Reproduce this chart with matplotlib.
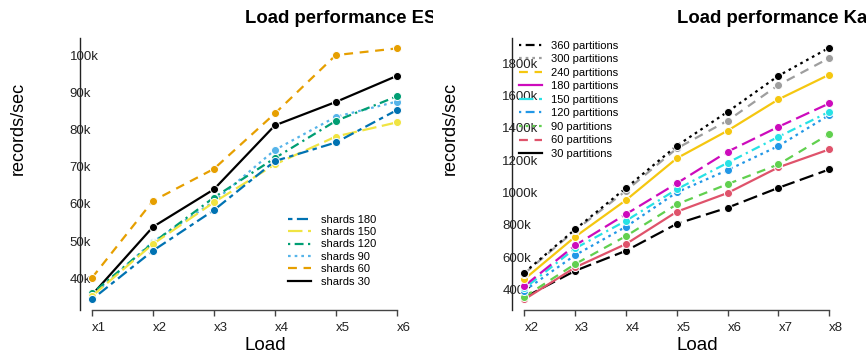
import matplotlib
matplotlib.use("Agg")
import matplotlib.pyplot as plt
from matplotlib.lines import Line2D
from matplotlib.transforms import Bbox, TransformedBbox

plt.rcParams.update({
    "font.family": ["Liberation Sans", "DejaVu Sans"],
    "font.size": 9,
})

W, H = 866, 358

# ---- data: ES shards ----
es_loads = [1, 2, 3, 4, 5, 6]
es_labels = ["x1", "x2", "x3", "x4", "x5", "x6"]
es_names = ["shards 30", "shards 60", "shards 90", "shards 120", "shards 150", "shards 180"]
es_30 = [35500, 53800, 63900, 81100, 87400, 94400]
es_60 = [40100, 60800, 69400, 84300, 100000, 101800]
es_90 = [35300, 49800, 60600, 74500, 83400, 87500]
es_120 = [35900, 49500, 61700, 72300, 82300, 88900]
es_150 = [35200, 49200, 60400, 70600, 78100, 81900]
es_180 = [34300, 47400, 58300, 71500, 76500, 85200]

# ---- data: Kafka partitions ----
ka_loads = [2, 3, 4, 5, 6, 7, 8]
ka_labels = ["x2", "x3", "x4", "x5", "x6", "x7", "x8"]
ka_names = ["30 partitions", "60 partitions", "90 partitions", "120 partitions",
            "150 partitions", "180 partitions", "240 partitions", "300 partitions",
            "360 partitions"]
ka_30 = [350000, 515000, 639000, 806000, 906000, 1029000, 1143000]
ka_60 = [338000, 536000, 681000, 881000, 997000, 1156000, 1267000]
ka_90 = [354000, 557000, 730000, 927000, 1052000, 1174000, 1362000]
ka_120 = [392000, 612000, 788000, 1001000, 1139000, 1288000, 1480000]
ka_150 = [406000, 654000, 825000, 1020000, 1184000, 1345000, 1500000]
ka_180 = [421000, 673000, 866000, 1057000, 1253000, 1407000, 1552000]
ka_240 = [463000, 726000, 953000, 1212000, 1383000, 1577000, 1730000]
ka_300 = [498000, 765000, 1011000, 1273000, 1445000, 1666000, 1833000]
ka_360 = [504000, 772000, 1028000, 1290000, 1500000, 1723000, 1897000]

# line types (R lty look-alikes)
SOLID = "-"
DASHED = (0, (4, 3))
DOTTED = (0, (1.2, 1.8))
DOTDASH = (0, (1, 2, 4, 2))
LONGDASH = (0, (6.5, 2.5))
TWODASH = (0, (2, 2, 5, 2))

es_series = [es_30, es_60, es_90, es_120, es_150, es_180]
es_colors = ["#000000", "#E69F00", "#56B4E9", "#009E73", "#F0E442", "#0072B2"]
es_lty = [SOLID, DASHED, DOTTED, DOTDASH, LONGDASH, TWODASH]

ka_series = [ka_30, ka_60, ka_90, ka_120, ka_150, ka_180, ka_240, ka_300, ka_360]
ka_colors = ["#000000", "#DF536B", "#61D04F", "#2297E6", "#28E2E5", "#CD0BBC",
             "#F5C710", "#9E9E9E", "#000000"]
ka_lty = [LONGDASH, SOLID, DASHED, DOTTED, DOTDASH, LONGDASH, SOLID, DASHED, DOTTED]
ka_leg_lty = [SOLID, DASHED, DOTTED, DOTDASH, LONGDASH, SOLID, DASHED, DOTTED, DOTDASH]

fig = plt.figure(figsize=(W / 100, H / 100), dpi=100)


def px_axes(x0, x1, y0, y1):
    return fig.add_axes([x0 / W, 1 - y1 / H, (x1 - x0) / W, (y1 - y0) / H])


def style_axes(ax, xs, xlabels, yticks, ylim, xlim):
    ax.set_xlim(*xlim)
    ax.set_ylim(*ylim)
    for s in ["top", "right"]:
        ax.spines[s].set_visible(False)
    ax.spines["left"].set_color("#222222")
    ax.spines["left"].set_linewidth(1.0)
    ax.spines["bottom"].set_color("#444444")
    ax.spines["bottom"].set_linewidth(1.0)
    ax.spines["bottom"].set_bounds(xs[0], xs[-1])
    ax.set_xticks(xs)
    ax.set_xticklabels(xlabels)
    ax.set_yticks(yticks)
    ax.set_yticklabels([f"{int(v / 1000)}k" for v in yticks])
    ax.tick_params(axis="x", direction="out", length=4.3, width=1, color="#444444",
                   pad=4, labelsize=9.5, labelcolor="#222222")
    ax.tick_params(axis="y", length=0, pad=7.2, labelsize=9.5, labelcolor="#222222")
    for t in ax.get_yticklabels():
        t.set_horizontalalignment("left")
    for t in ax.get_xticklabels():
        t.set_horizontalalignment("left")


def clipped_title(x, text, clip_x0, clip_x1):
    t = fig.text(x / W, 1 - 23 / H, text, ha="left", va="baseline",
                 fontsize=13.3, fontweight="bold")
    t.set_clip_box(TransformedBbox(Bbox([[clip_x0 / W, 0], [clip_x1 / W, 1]]),
                                   fig.transFigure))
    t.set_clip_on(True)


def side_labels(xc, ylab_x):
    fig.text(ylab_x / W, 1 - 175 / H, "records/sec", rotation=90, ha="center",
             va="bottom", fontsize=13)
    fig.text(xc / W, 1 - 346 / H, "Load", ha="left", va="center", fontsize=13.5)


# ---- left: ES ----
ax1 = px_axes(79.8, 409, 38, 310)
for ys, c, ls in zip(es_series, es_colors, es_lty):
    ax1.plot(es_loads, ys, color=c, linestyle=ls, lw=1.6, marker="o", ms=5.8,
             mec="white", mew=0.7, clip_on=False)
style_axes(ax1, es_loads, es_labels, [40000, 50000, 60000, 70000, 80000, 90000, 100000],
           (31450, 104600), (0.8, 6.2))
h1 = [Line2D([], [], color=c, linestyle=ls, lw=1.6)
      for c, ls in zip(es_colors[::-1], es_lty[::-1])]
ax1.legend(h1, es_names[::-1], loc="upper left", bbox_to_anchor=(282 / W, 1 - 209 / H),
           bbox_transform=fig.transFigure, frameon=False, fontsize=8,
           handlelength=2.1, handletextpad=0.95, labelspacing=0.22, borderpad=0)
clipped_title(245, "Load performance ES", 0, 433)
side_labels(245, 18)

# ---- right: Kafka ----
ax2 = px_axes(512.2, 841.5, 38, 310)
for ys, c, ls in zip(ka_series, ka_colors, ka_lty):
    ax2.plot(ka_loads, ys, color=c, linestyle=ls, lw=1.6, marker="o", ms=5.8,
             mec="white", mew=0.7, clip_on=False)
style_axes(ax2, ka_loads, ka_labels,
           [400000, 600000, 800000, 1000000, 1200000, 1400000, 1600000, 1800000],
           (272000, 1957000), (1.76, 8.24))
h2 = [Line2D([], [], color=c, linestyle=ls, lw=1.6)
      for c, ls in zip(ka_colors[::-1], ka_leg_lty[::-1])]
ax2.legend(h2, ka_names[::-1], loc="upper left", bbox_to_anchor=(513 / W, 1 - 35 / H),
           bbox_transform=fig.transFigure, frameon=False, fontsize=8,
           handlelength=2.1, handletextpad=0.85, labelspacing=0.32, borderpad=0)
clipped_title(676.7, "Load performance Kafka", 433, 866)
side_labels(677, 450)

fig.savefig("out.png", dpi=100)
